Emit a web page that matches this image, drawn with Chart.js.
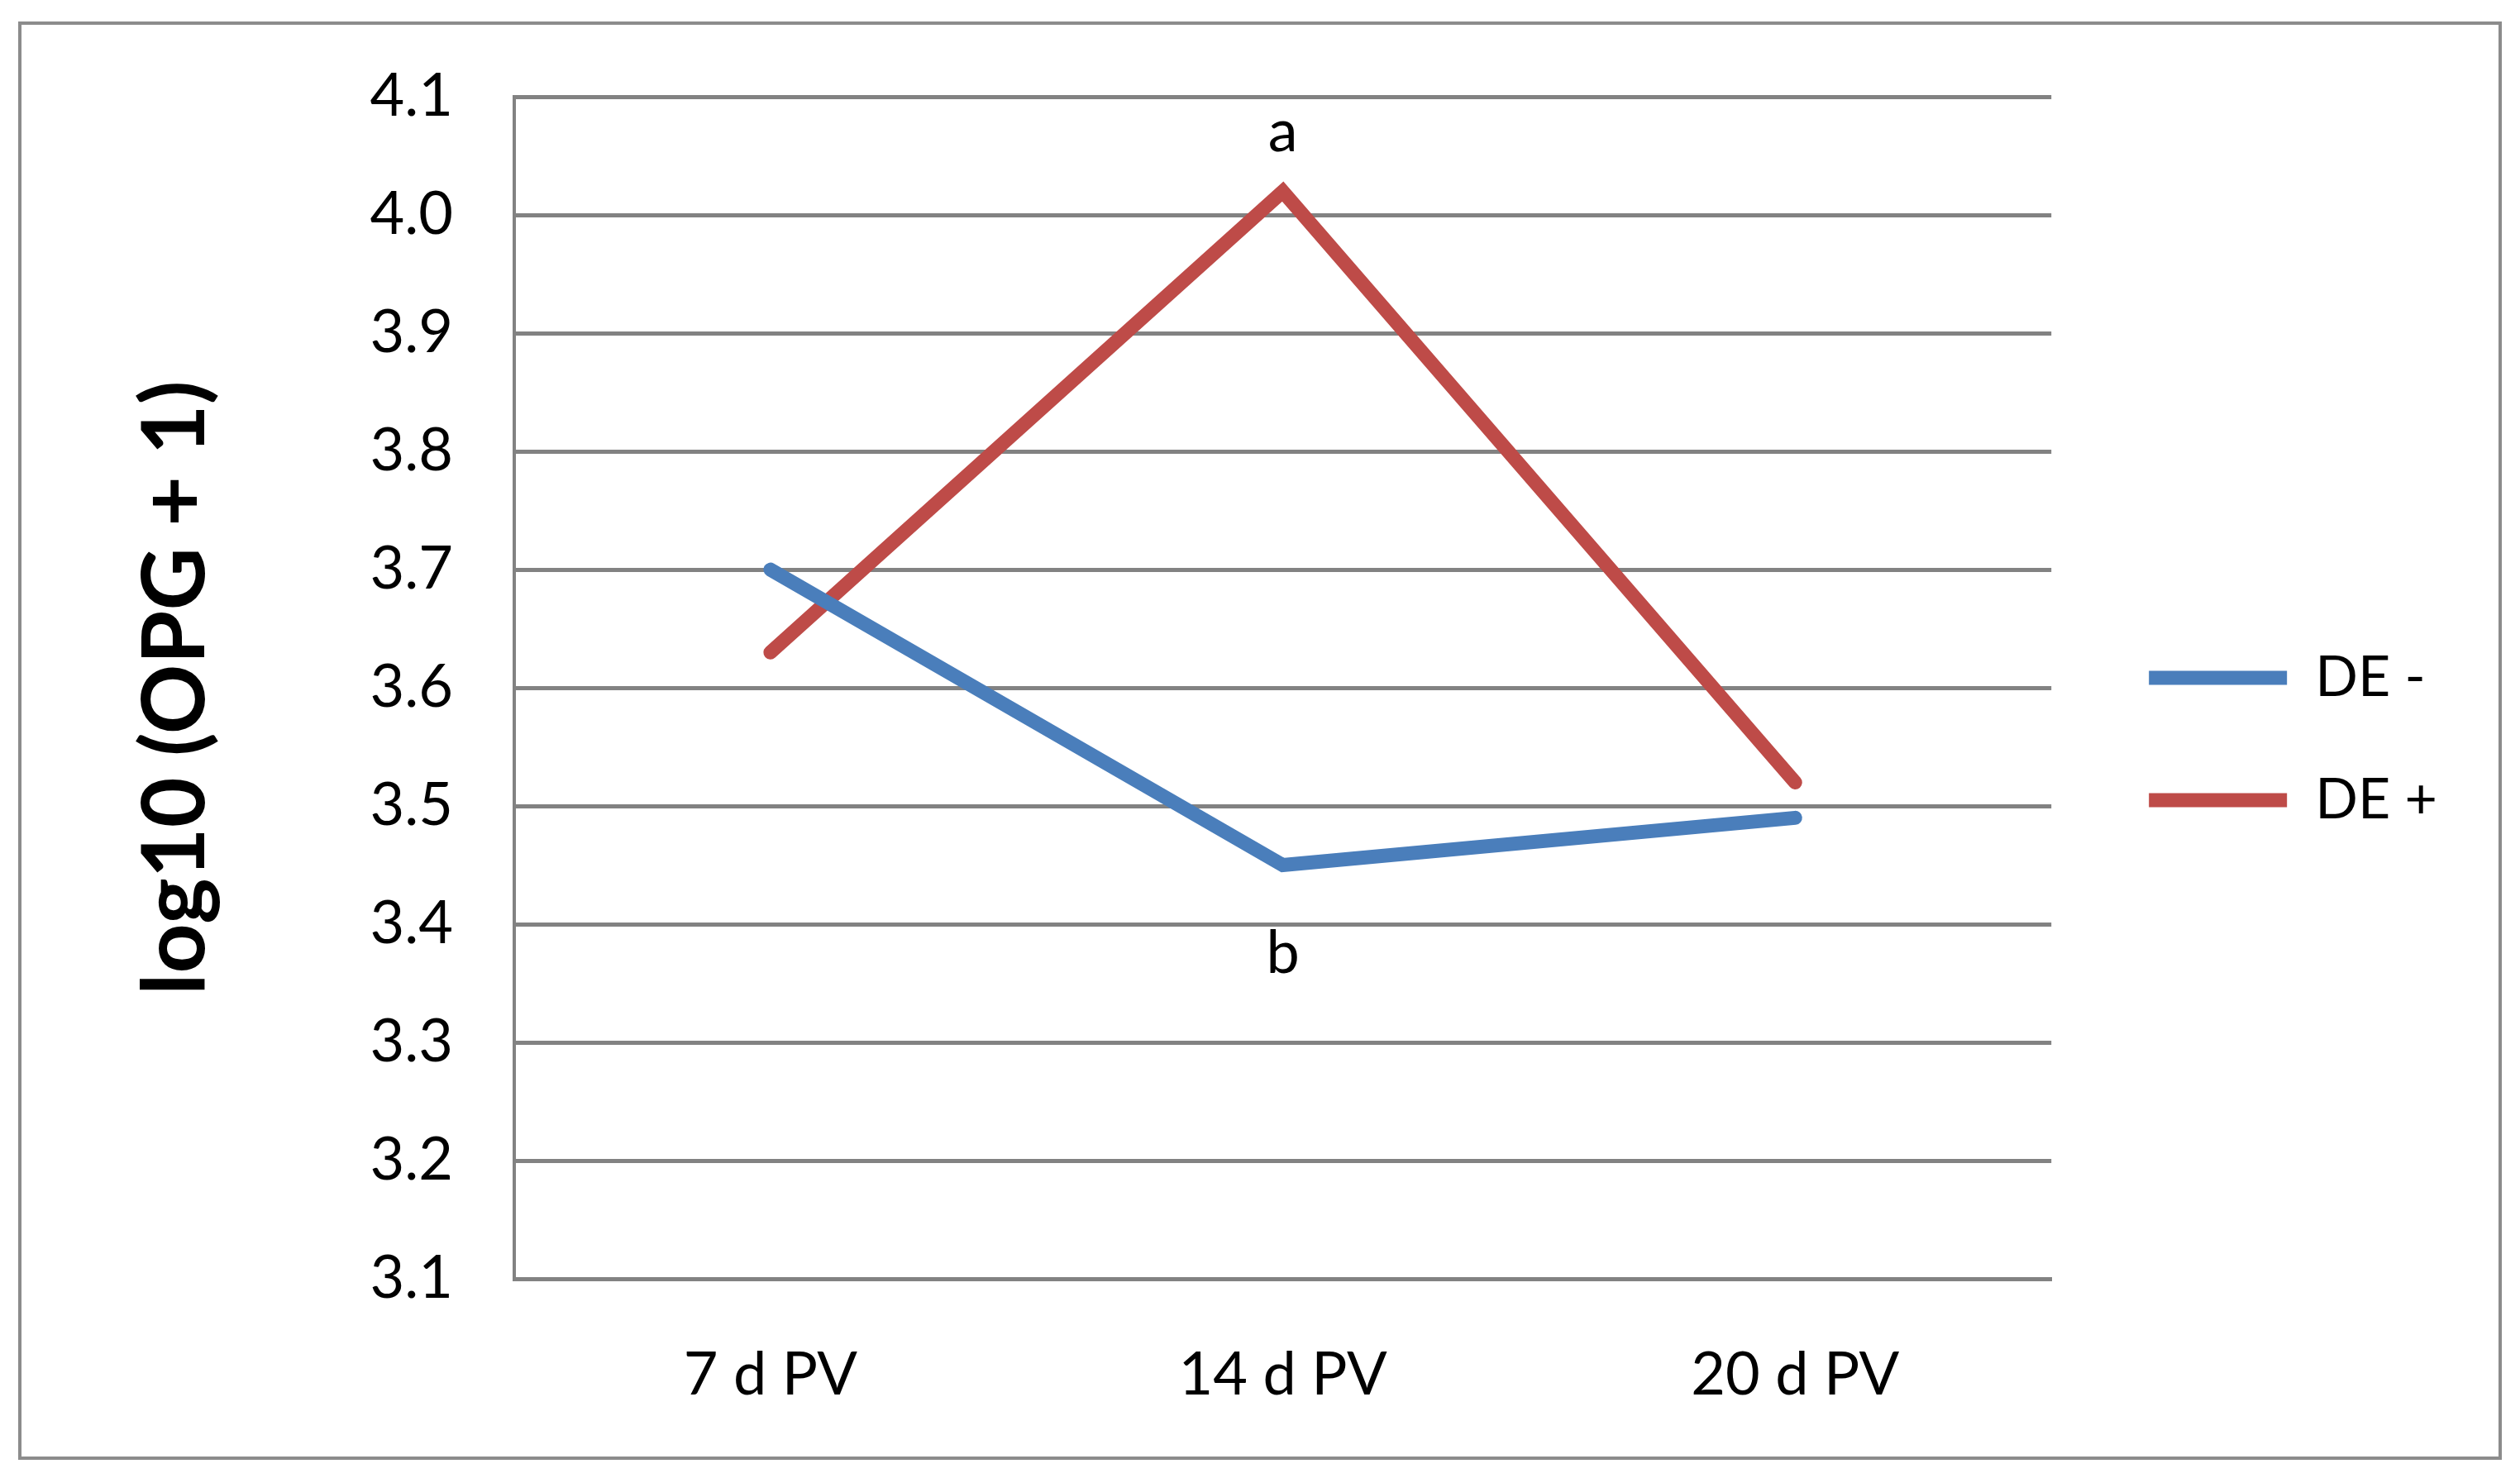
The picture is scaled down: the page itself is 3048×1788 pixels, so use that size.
<!DOCTYPE html>
<html>
<head>
<meta charset="utf-8">
<script src="https://cdn.jsdelivr.net/npm/chart.js@4"></script>
<style>
html, body { margin: 0; padding: 0; background: #fff; }
#wrap { position: relative; width: 3048px; height: 1788px; }
#frame { position: absolute; left: 22px; top: 26px; width: 2996px; height: 1732px; border: 4px solid #8c8c8c; pointer-events: none; }
canvas { position: absolute; left: 0; top: 0; }
</style>
</head>
<body>
<div id="wrap">
  <canvas id="line-chart" width="3048" height="1788"></canvas>
  <div id="frame"></div>
</div>
<script>
let days = ['7 d PV', '14 d PV', '20 d PV'];
let deMinus = [3.70, 3.45, 3.49];
let dePlus = [3.63, 4.02, 3.52];

let yMin = 3.1;
let yMax = 4.1;
let yStep = 0.1;

// significance letters at 14 d PV
let letterText = ['a', 'b'];
let letterDay = [1, 1];
let letterValue = [4.07, 3.375];

let gridGrey = '#828282';
let textFont = 'Lato';

let letterPlugin = {
    id: 'letters',
    afterDatasetsDraw: function (chart) {
        let ctx = chart.ctx;
        let x = chart.scales.x;
        let y = chart.scales.y;
        ctx.save();
        ctx.font = '72px ' + textFont;
        ctx.fillStyle = '#000';
        ctx.textAlign = 'center';
        ctx.textBaseline = 'middle';
        letterText.forEach(function (t, i) {
            ctx.fillText(t, x.getPixelForValue(letterDay[i]), y.getPixelForValue(letterValue[i]));
        });
        ctx.restore();
    }
};

new Chart(document.getElementById('line-chart'), {
    type: 'line',
    data: {
        labels: days,
        datasets: [{
            label: 'DE -',
            data: deMinus,
            borderColor: '#4a7ebb',
            backgroundColor: '#4a7ebb',
            borderWidth: 17,
            borderCapStyle: 'round',
            pointRadius: 0,
            fill: false
        }, {
            label: 'DE +',
            data: dePlus,
            borderColor: '#be4b48',
            backgroundColor: '#be4b48',
            borderWidth: 17,
            borderCapStyle: 'round',
            pointRadius: 0,
            fill: false
        }]
    },
    options: {
        responsive: false,
        animation: false,
        layout: { padding: { left: 146, right: 90, top: 0, bottom: 0 } },
        plugins: {
            legend: {
                position: 'right',
                labels: {
                    usePointStyle: true,
                    pointStyle: 'line',
                    pointStyleWidth: 167,
                    padding: 80,
                    color: '#000',
                    font: { family: textFont, size: 68 }
                }
            },
            tooltip: { enabled: false }
        },
        scales: {
            x: {
                offset: true,
                grid: { display: false },
                border: { color: gridGrey, width: 5 },
                ticks: { color: '#000', padding: 66, font: { family: textFont, size: 72 } },
                afterFit: function (s) { s.height = 241; }
            },
            xTop: {
                type: 'category',
                position: 'top',
                grid: { display: false },
                border: { display: false },
                ticks: { display: false },
                afterFit: function (s) { s.height = 115; }
            },
            y: {
                min: yMin,
                max: yMax,
                ticks: {
                    stepSize: yStep,
                    padding: 74,
                    color: '#000',
                    font: { family: textFont, size: 72 },
                    callback: function (v) { return v.toFixed(1); }
                },
                grid: { color: gridGrey, lineWidth: 5, drawTicks: false },
                border: { color: gridGrey, width: 4 },
                title: {
                    display: true,
                    text: 'log10 (OPG + 1)',
                    color: '#000',
                    font: { family: textFont, size: 105, weight: 'bold' }
                },
                afterFit: function (s) { s.width = 476; }
            },
            yRight: {
                type: 'linear',
                position: 'right',
                grid: { display: false },
                border: { display: false },
                ticks: { display: false },
                afterFit: function (s) { s.width = 38; }
            }
        }
    },
    plugins: [letterPlugin]
});
</script>
</body>
</html>
